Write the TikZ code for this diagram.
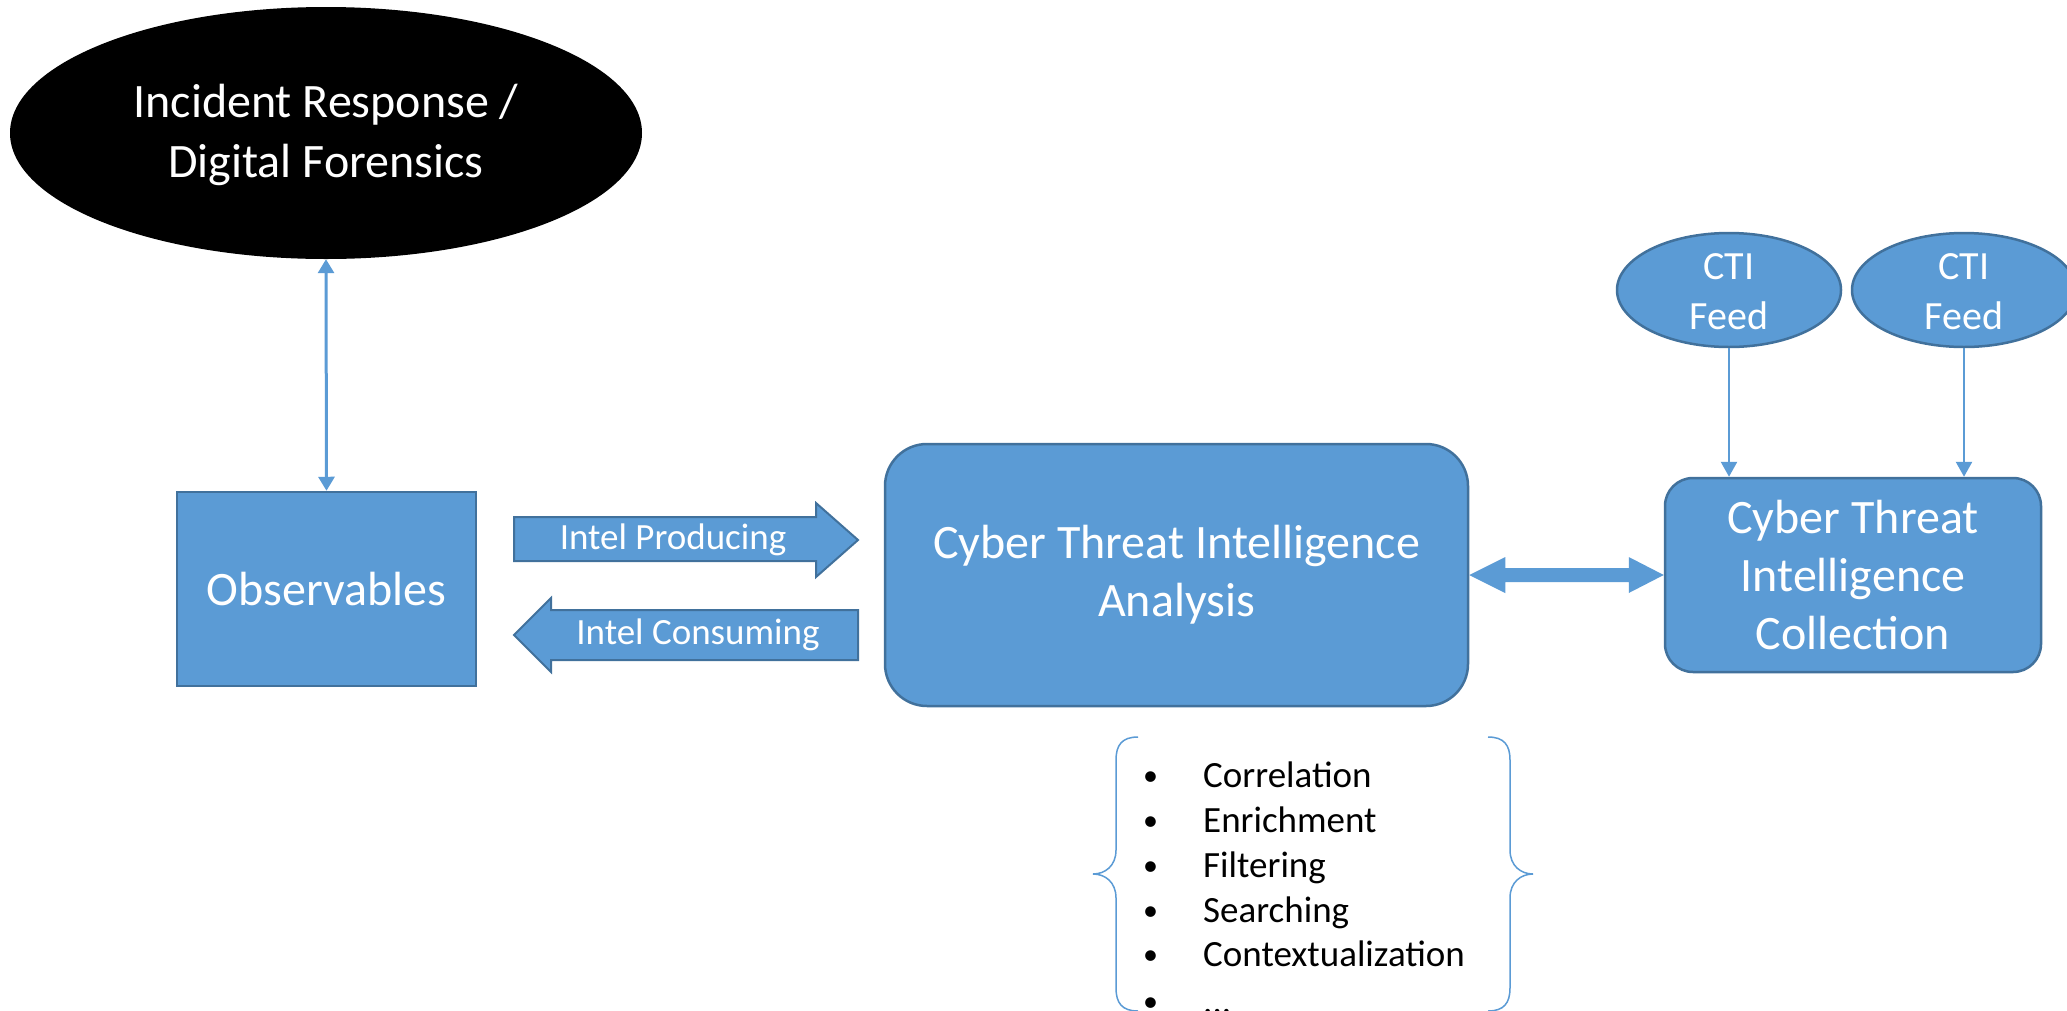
\documentclass[tikz,border=0pt]{standalone}
\usepackage{fontspec}
\setmainfont{Carlito}
\usetikzlibrary{shapes.geometric,arrows.meta,calc}
\definecolor{cblue}{HTML}{5B9BD5}
\definecolor{cedge}{HTML}{41719C}
\newcommand{\mybul}{\llap{\makebox[60pt][l]{\raisebox{2pt}{\fontsize{30}{30}\selectfont •}}}}
\begin{document}
\begin{tikzpicture}[x=1pt,y=-1pt,
  bigtxt/.style={font=\fontsize{48}{58}\selectfont},
  boxnode/.style={draw=cedge, fill=cblue, line width=2.5pt, text=white, align=center, inner sep=0pt, bigtxt},
  feednode/.style={ellipse, draw=cedge, fill=cblue, line width=2.5pt, minimum width=224pt, minimum height=114pt, inner sep=0pt},
  feedtxt/.style={text=white, align=center, inner sep=0pt, font=\fontsize{40}{50}\selectfont},
  fatarrow/.style={draw=cedge, fill=cblue, line width=2pt, line join=miter},
  arrtxt/.style={text=white, inner sep=0pt, font=\fontsize{37}{45}\selectfont},
  thinarrow/.style={draw=cblue, line width=3pt, {Triangle[length=14pt,width=16pt]}-{Triangle[length=14pt,width=16pt]}},
  feedarrow/.style={draw=cblue, line width=2.5pt, -{Triangle[length=15pt,width=16pt]}},
  brace/.style={draw=cblue, line width=1.5pt},
  item/.style={anchor=base west, inner sep=0pt, text=black, font=\fontsize{37}{45}\selectfont}
]
\useasboundingbox (0,0) rectangle (2067,1010);
\clip (0,0) rectangle (2067,1010);
\fill[white] (0,0) rectangle (2067,1010);

% Incident Response ellipse
\node[ellipse, fill=black, minimum width=632pt, minimum height=252pt, inner sep=0pt] (ir) at (326,133) {};
\node[text=white, align=center, inner sep=0pt, font=\fontsize{48}{60}\selectfont] (irt) at (326,135) {Incident Response /\\Digital Forensics};

% Observables
\node[boxnode, minimum width=299pt, minimum height=194pt] (obs) at (326.5,589) {Observables};

% Analysis
\node[boxnode, rounded corners=42pt, minimum width=583pt, minimum height=262pt] (ana) at (1176.5,575) {Cyber Threat Intelligence\\Analysis};

% Collection
\node[boxnode, rounded corners=28pt, minimum width=376pt, minimum height=194pt] (col) at (1853,575) {Cyber Threat\\Intelligence\\Collection};

% CTI Feeds
\node[feednode] (feed1) at (1729,290) {};
\node[feedtxt] (feed1t) at (1729,292) {CTI\\Feed};
\node[feednode] (feed2) at (1964,290) {};
\node[feedtxt] (feed2t) at (1964,292) {CTI\\Feed};

% connectors
\draw[thinarrow] (ir.south) -- (obs.north);
\draw[feedarrow] (feed1.south) -- (feed1.south |- col.north);
\draw[feedarrow] (feed2.south) -- (feed2.south |- col.north);

% fat double arrow between analysis and collection
\fill[cblue] (ana.east) -- ++(36,-18) -- ++(0,11) -- ($(col.west)+(-35,-7)$) -- ++(0,-11) -- (col.west)
  -- ++(-35,18) -- ++(0,-11) -- ($(ana.east)+(36,7)$) -- ++(0,11) -- cycle;

% Intel Producing / Consuming block arrows
\draw[fatarrow] (514,517) -- (816,517) -- (816,503) -- (858,540) -- (816,577) -- (816,561) -- (514,561) -- cycle;
\node[arrtxt] (prod) at (673,540) {Intel Producing};
\draw[fatarrow] (858,610) -- (551,610) -- (551,598) -- (514,635) -- (551,672) -- (551,660) -- (858,660) -- cycle;
\node[arrtxt] (cons) at (698,635) {Intel Consuming};

% braces
\draw[brace] (1138,737) .. controls (1122,737) and (1116,745) .. (1116,760) -- (1116,850)
  .. controls (1116,866) and (1105,874) .. (1093,874) .. controls (1105,874) and (1116,882) .. (1116,898)
  -- (1116,988) .. controls (1116,1003) and (1122,1011) .. (1138,1011);
\draw[brace] (1488,737) .. controls (1504,737) and (1510,745) .. (1510,760) -- (1510,850)
  .. controls (1510,866) and (1521,874) .. (1533,874) .. controls (1521,874) and (1510,882) .. (1510,898)
  -- (1510,988) .. controls (1510,1003) and (1504,1011) .. (1488,1011);

% bullet list
\node[item] (i1) at (1203,787) {\mybul Correlation};
\node[item] (i2) at (1203,832) {\mybul Enrichment};
\node[item] (i3) at (1203,877) {\mybul Filtering};
\node[item] (i4) at (1203,922) {\mybul Searching};
\node[item] (i5) at (1203,966) {\mybul Contextualization};
\node[item] (i6) at (1203,1013) {\mybul ...};
\end{tikzpicture}
\end{document}
